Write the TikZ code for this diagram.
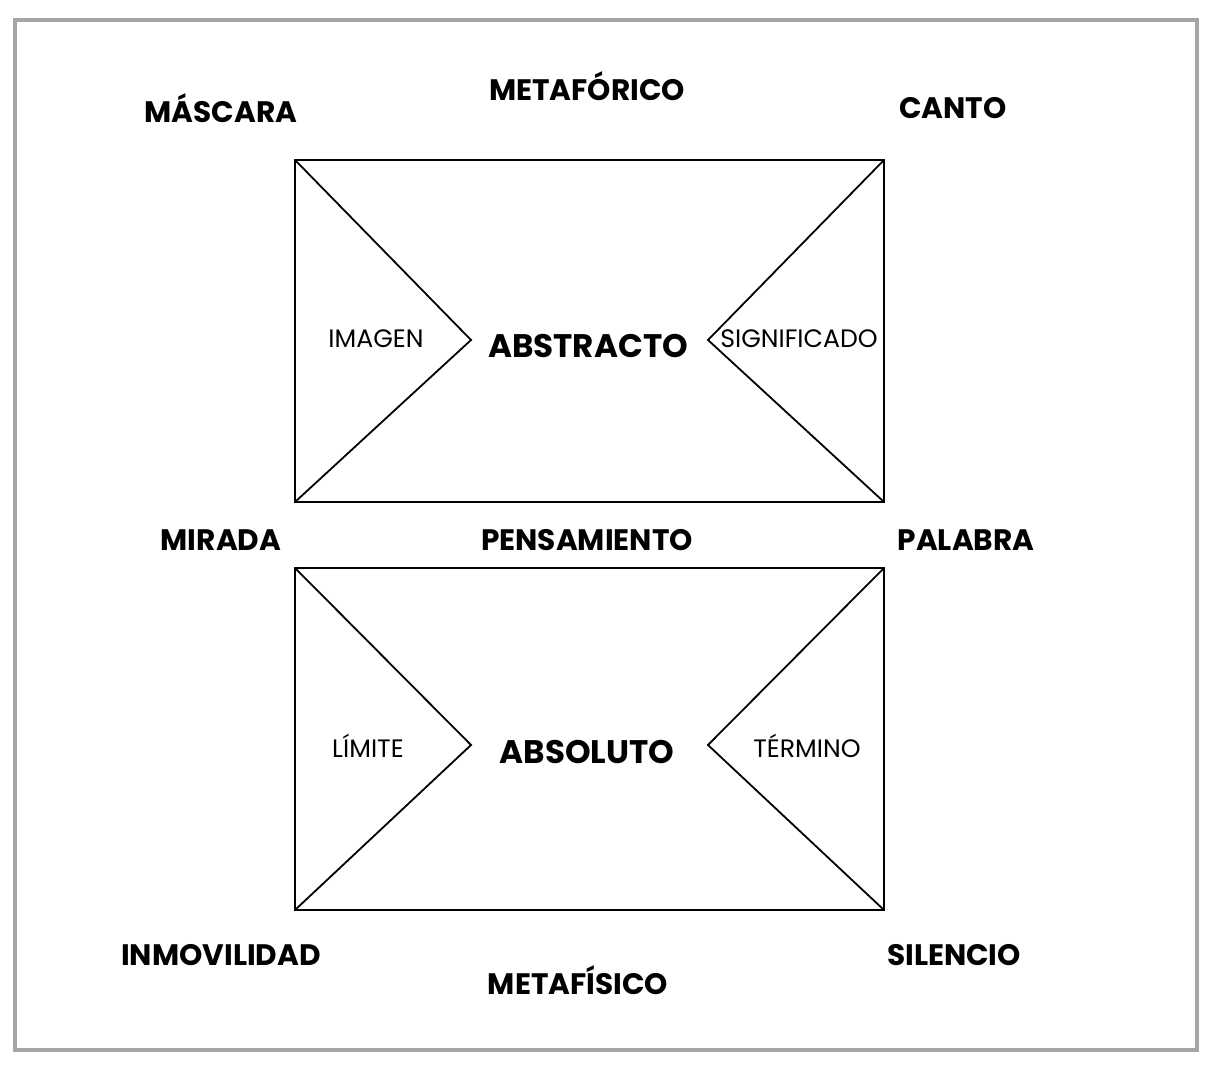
\documentclass[tikz,border=0pt]{standalone}
\usepackage{fontspec}
\setmainfont{Poppins}
\begin{document}
\begin{tikzpicture}[x=0.5pt,y=-0.5pt,
  lab/.style={font=\fontsize{14.8}{17}\selectfont\bfseries, inner sep=0pt, anchor=center},
  small/.style={font=\fontsize{12.6}{14}\selectfont, inner sep=0pt, anchor=center},
  big/.style={font=\fontsize{16.3}{19}\selectfont\bfseries, inner sep=0pt, anchor=center},
  box/.style={draw=black, line width=0.9pt},
  tri/.style={draw=black, line width=0.9pt}]
\useasboundingbox (0,0) rectangle (1218,1068);
\fill[white] (0,0) rectangle (1218,1068);
\draw[gray!70, line width=1.6pt] (15,20) rectangle (1197,1050);
% top box
\coordinate (a1) at (295,160); \coordinate (a2) at (884,160);
\coordinate (a3) at (884,502); \coordinate (a4) at (295,502);
\coordinate (al) at (471,340); \coordinate (ar) at (708,340);
\draw[box] (a1) rectangle (a3);
\draw[tri] (a1) -- (al) -- (a4);
\draw[tri] (a2) -- (ar) -- (a3);
% bottom box
\coordinate (b1) at (295,568); \coordinate (b2) at (884,568);
\coordinate (b3) at (884,910); \coordinate (b4) at (295,910);
\coordinate (bl) at (471,745); \coordinate (br) at (708,745);
\draw[box] (b1) rectangle (b3);
\draw[tri] (b1) -- (bl) -- (b4);
\draw[tri] (b2) -- (br) -- (b3);
% labels
\node[lab] (mascara) at (221,108) {MÁSCARA};
\node[lab] (metaforico) at (587,86) {METAFÓRICO};
\node[lab] (canto) at (953,108) {CANTO};
\node[small] (imagen) at (376,339) {IMAGEN};
\node[big] (abstracto) at (588,346) {ABSTRACTO};
\node[small] (significado) at (799,339) {SIGNIFICADO};
\node[lab] (mirada) at (221,540) {MIRADA};
\node[lab] (pensamiento) at (587,540) {PENSAMIENTO};
\node[lab] (palabra) at (966,540) {PALABRA};
\node[small] (limite) at (368,746) {LÍMITE};
\node[big] (absoluto) at (587,752) {ABSOLUTO};
\node[small] (termino) at (807,746) {TÉRMINO};
\node[lab] (inmovilidad) at (221,955) {INMOVILIDAD};
\node[lab] (metafisico) at (578,980) {METAFÍSICO};
\node[lab] (silencio) at (954,955) {SILENCIO};
\end{tikzpicture}
\end{document}
